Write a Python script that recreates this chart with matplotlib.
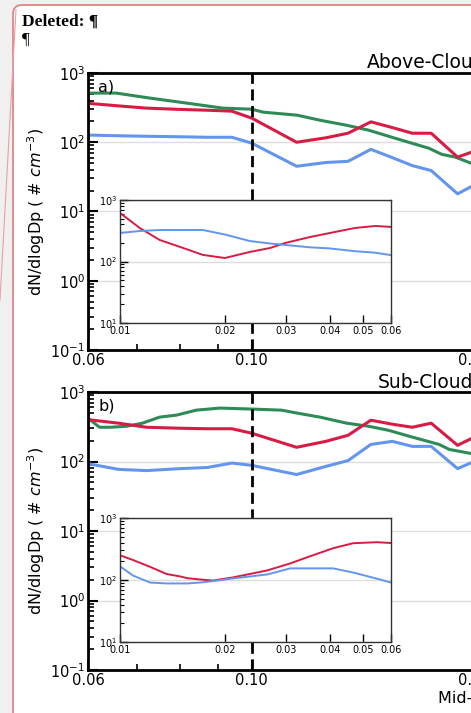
import matplotlib
matplotlib.use("Agg")
import matplotlib.pyplot as plt
from matplotlib.patches import FancyBboxPatch
from matplotlib.lines import Line2D
from matplotlib.ticker import FixedLocator, FixedFormatter, NullLocator, NullFormatter, LogLocator

W, H = 471, 713

# ---- data ----
# main panels, red / blue share the size bins
dp_main = [0.06, 0.066, 0.072, 0.08, 0.087, 0.094, 0.1, 0.115, 0.126, 0.135,
           0.145, 0.155, 0.165, 0.175, 0.19, 0.2]
red_a = [365, 335, 311, 298, 290, 281, 223, 100, 116, 135, 197, 163, 135, 135, 61, 74]
blue_a = [127, 124, 122, 120, 118, 118, 97, 45, 51, 53, 79, 60, 46, 39, 18, 24]
red_b = [400, 356, 311, 301, 296, 296, 255, 160, 195, 238, 393, 344, 311, 356, 171, 223]
blue_b = [93, 77, 74, 79, 82, 95, 88, 65, 85, 103, 176, 195, 165, 165, 79, 100]

dp_green_a = [0.06, 0.0655, 0.0728, 0.0817, 0.0914, 0.1, 0.1036, 0.1152, 0.1237,
              0.1344, 0.1441, 0.1565, 0.1737, 0.1808, 0.1886, 0.2]
green_a = [513, 513, 434, 367, 311, 300, 272, 246, 208, 176, 149, 114, 82, 67, 61, 48]

dp_green_b = [0.06, 0.0622, 0.0643, 0.0676, 0.0711, 0.075, 0.0791, 0.0841, 0.0905,
              0.1006, 0.1097, 0.1152, 0.1237, 0.1344, 0.1441, 0.1532, 0.1636,
              0.1794, 0.1852, 0.2]
green_b = [420, 311, 311, 321, 356, 435, 465, 548, 587, 567, 548, 497, 435, 356,
           321, 281, 230, 176, 149, 128]

# insets (small sizes)
dp_in_a = [0.01, 0.0114, 0.013, 0.0149, 0.0173, 0.02, 0.0236, 0.027, 0.0298,
           0.0351, 0.0401, 0.0473, 0.0541, 0.06]
red_in_a = [615, 350, 224, 172, 128, 114, 143, 166, 200, 250, 291, 351, 378, 365]
blue_in_a = [291, 313, 325, 325, 325, 275, 215, 196, 186, 170, 163, 147, 139, 127]

dp_in_b = [0.01, 0.0109, 0.0122, 0.0136, 0.0149, 0.0156, 0.017, 0.0185, 0.0211,
           0.0265, 0.0308, 0.0351, 0.0409, 0.0467, 0.0547, 0.06]
red_in_b = [250, 210, 163, 125, 114, 107, 102, 98, 110, 143, 185, 241, 325, 392, 407, 395]
blue_in_b = [166, 118, 91, 88, 88, 88, 91, 96, 106, 123, 154, 154, 154, 132, 105, 91]

main_xticks = [0.06, 0.1, 0.2]
main_xlabels = ["0.06", "0.10", "0.20"]
inset_xticks = [0.01, 0.02, 0.03, 0.04, 0.05, 0.06]
inset_xlabels = ["0.01", "0.02", "0.03", "0.04", "0.05", "0.06"]

GREEN = "#2e8b57"
RED = "#d81b45"
BLUE = "#6495ed"

# minor tick positions for the log y axes
minor_main = [m * 10.0 ** e for e in range(-1, 3) for m in range(2, 10)]
minor_inset = [m * 10.0 ** e for e in range(1, 3) for m in range(2, 10)]


def px_axes(fig, left, top, right, bottom, **kw):
    return fig.add_axes([left / W, 1 - bottom / H, (right - left) / W, (bottom - top) / H], **kw)


fig = plt.figure(figsize=(W / 100, H / 100), dpi=100)
fig.patch.set_facecolor("#f0f0f0")

# document frame (comment balloon)
bg = px_axes(fig, 0, 0, W, H, zorder=0)
bg.set_xlim(0, W)
bg.set_ylim(H, 0)
bg.axis("off")
box = FancyBboxPatch((13, 5), 700, 900, boxstyle="round,pad=0,rounding_size=9",
                     facecolor="white", edgecolor="#e08585", linewidth=1.3)
bg.add_patch(box)
bg.add_line(Line2D([16, 0], [10, 300], color="#e8a0a0", lw=0.8))
bg.text(22, 22, "Deleted: ¶", family="Liberation Serif", weight="bold",
        fontsize=12.5, va="center", ha="left")
bg.text(22, 40, "¶", family="Liberation Serif", fontsize=12.5, va="center", ha="left")


def style_main(ax):
    ax.set_xscale("log")
    ax.set_yscale("log")
    ax.set_xlim(0.06, 0.3)
    ax.set_ylim(1e-1, 1e3)
    ax.xaxis.set_major_locator(FixedLocator(main_xticks))
    ax.xaxis.set_major_formatter(FixedFormatter(main_xlabels))
    ax.xaxis.set_minor_locator(FixedLocator([0.07, 0.08, 0.09]))
    ax.xaxis.set_minor_formatter(NullFormatter())
    ax.yaxis.set_major_locator(LogLocator(base=10, numticks=10))
    ax.yaxis.set_minor_locator(FixedLocator(minor_main))
    ax.yaxis.set_minor_formatter(NullFormatter())
    ax.tick_params(which="both", direction="in", labelsize=10.5, pad=2)
    ax.tick_params(which="major", length=7, width=1.5)
    ax.tick_params(which="minor", length=4, width=1.2)
    for s in ax.spines.values():
        s.set_linewidth(2)
    ax.grid(True, axis="y", which="major", color="#dddddd", lw=1)
    ax.set_axisbelow(True)
    ax.axvline(0.1, color="black", lw=2, ls=(0, (4, 2)), zorder=3)


def style_inset(ax):
    ax.set_xscale("log")
    ax.set_yscale("log")
    ax.set_xlim(0.01, 0.06)
    ax.set_ylim(1e1, 1e3)
    ax.xaxis.set_major_locator(FixedLocator(inset_xticks))
    ax.xaxis.set_major_formatter(FixedFormatter(inset_xlabels))
    ax.xaxis.set_minor_locator(NullLocator())
    ax.yaxis.set_minor_locator(FixedLocator(minor_inset))
    ax.yaxis.set_minor_formatter(NullFormatter())
    ax.tick_params(which="both", direction="in", labelsize=7, pad=2)
    ax.tick_params(which="major", length=6, width=1)
    ax.tick_params(which="minor", length=3, width=0.8)
    for s in ax.spines.values():
        s.set_linewidth(1)
        s.set_color("#333333")
    ax.grid(True, axis="y", which="major", color="#dddddd", lw=1)
    ax.set_axisbelow(True)


# panel a
ax1 = px_axes(fig, 88, 73, 604, 350, zorder=2)
style_main(ax1)
ax1.plot(dp_green_a, green_a, color=GREEN, lw=2.2)
ax1.plot(dp_main, red_a, color=RED, lw=2.2)
ax1.plot(dp_main, blue_a, color=BLUE, lw=2.2)
ax1.text(0.02, 0.95, "a)", transform=ax1.transAxes, fontsize=11.5, va="center")

in1 = px_axes(fig, 120, 200, 391, 323, zorder=4)
style_inset(in1)
in1.plot(dp_in_a, red_in_a, color=RED, lw=1.4)
in1.plot(dp_in_a, blue_in_a, color=BLUE, lw=1.4)

# panel b
ax2 = px_axes(fig, 88, 392, 604, 670, zorder=2)
style_main(ax2)
ax2.plot(dp_green_b, green_b, color=GREEN, lw=2.2)
ax2.plot(dp_main, red_b, color=RED, lw=2.2)
ax2.plot(dp_main, blue_b, color=BLUE, lw=2.2)
ax2.text(0.02, 0.95, "b)", transform=ax2.transAxes, fontsize=11.5, va="center")

in2 = px_axes(fig, 120, 518, 391, 642, zorder=4)
style_inset(in2)
in2.plot(dp_in_b, red_in_b, color=RED, lw=1.4)
in2.plot(dp_in_b, blue_in_b, color=BLUE, lw=1.4)

# labels placed in figure pixels
ylab = "dN/dlogDp ( # $cm^{-3}$)"
fig.text(36 / W, 1 - 212 / H, ylab, rotation=90, ha="center", va="center", fontsize=11.5)
fig.text(36 / W, 1 - 531 / H, ylab, rotation=90, ha="center", va="center", fontsize=11.5)
fig.text(367 / W, 1 - 63 / H, "Above-Cloud", ha="left", va="center", fontsize=13.5)
fig.text(378 / W, 1 - 383 / H, "Sub-Cloud", ha="left", va="center", fontsize=13.5)
fig.text(438 / W, 1 - 698 / H, "Mid-point Diameter (µm)", ha="left", va="center", fontsize=11.5)

fig.savefig("out.png", dpi=100, facecolor=fig.get_facecolor())
